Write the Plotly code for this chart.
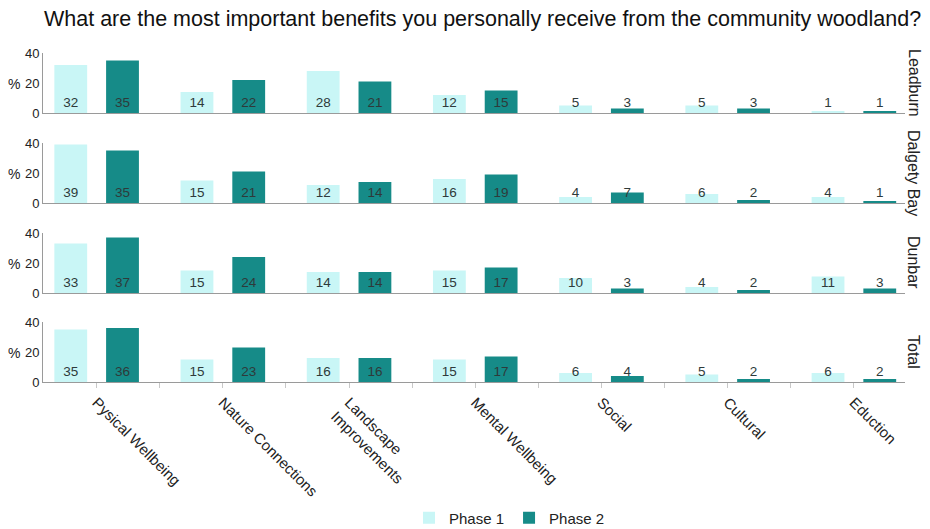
import numpy as np
import plotly.graph_objects as go

categories = ["Pysical Wellbeing", "Nature Connections", "Landscape<br>Improvements",
              "Mental Wellbeing", "Social", "Cultural", "Eduction"]
sites = ["Leadburn", "Dalgety Bay", "Dunbar", "Total"]
phase1 = {
    "Leadburn":    [32, 14, 28, 12, 5, 5, 1],
    "Dalgety Bay": [39, 15, 12, 16, 4, 6, 4],
    "Dunbar":      [33, 15, 14, 15, 10, 4, 11],
    "Total":       [35, 15, 16, 15, 6, 5, 6],
}
phase2 = {
    "Leadburn":    [35, 22, 21, 15, 3, 3, 1],
    "Dalgety Bay": [35, 21, 14, 19, 7, 2, 1],
    "Dunbar":      [37, 24, 14, 17, 3, 2, 3],
    "Total":       [36, 23, 16, 17, 4, 2, 2],
}
yticks = [0, 20, 40]

C1 = "#c9f6f6"
C2 = "#168b88"
FONT = "Arial, Liberation Sans, sans-serif"
OFF = 8  # page body margin
W, H = 930 - OFF, 529 - OFF

# plot area in page pixels
PL, PR, PT, PB = 43, 905, 53, 382
panels_px = [(53, 113), (143, 203), (233, 293), (322, 382)]


def px_x(px):
    return (px - PL) / (PR - PL)


def px_y(py):
    return (PB - py) / (PB - PT)


fig = go.Figure()
idx = np.arange(len(categories))
off = 0.205
bw = 0.26
label_y = 6.5

for r, site in enumerate(sites):
    ax = "" if r == 0 else str(r + 1)
    xa, ya = "x" + ax, "y" + ax
    fig.add_trace(go.Bar(x=idx - off, y=phase1[site], width=bw, marker_color=C1,
                         marker_line_width=0, name="Phase 1", showlegend=(r == 0),
                         xaxis=xa, yaxis=ya, legendgroup="p1"))
    fig.add_trace(go.Bar(x=idx + off, y=phase2[site], width=bw, marker_color=C2,
                         marker_line_width=0, name="Phase 2", showlegend=(r == 0),
                         xaxis=xa, yaxis=ya, legendgroup="p2"))
    xs = np.concatenate([idx - off, idx + off])
    ts = [str(v) for v in phase1[site] + phase2[site]]
    fig.add_trace(go.Scatter(x=xs, y=[label_y] * len(xs), text=ts, mode="text",
                             textfont=dict(size=13.5, color="#2e3a3a", family=FONT),
                             showlegend=False, hoverinfo="skip", xaxis=xa, yaxis=ya))

    top, bot = panels_px[r]
    fig.layout["yaxis" + ax] = dict(
        domain=[px_y(bot), px_y(top)], range=[0, 40], tickvals=yticks,
        showline=True, linecolor="#9a9a9a", linewidth=1, showgrid=False, zeroline=False,
        ticks="", tickfont=dict(size=13, color="#222", family=FONT), anchor=xa,
        fixedrange=True, automargin=False)
    last = (r == len(sites) - 1)
    fig.layout["xaxis" + ax] = dict(
        domain=[0, 1], range=[-0.425, 6.405], anchor=ya,
        showline=True, linecolor="#9a9a9a", linewidth=1, showgrid=False, zeroline=False,
        tickmode="array",
        tickvals=list(np.arange(-0.5, len(categories), 0.5)) if last else [],
        ticktext=([""] + sum([[c, ""] for c in categories], [])) if last else [],
        tickangle=45, ticks="outside" if last else "", ticklen=5, tickcolor="#c8c8c8",
        tickfont=dict(size=15, color="#222", family=FONT), showticklabels=last,
        fixedrange=True, automargin=False)
    fig.add_annotation(text=site, textangle=90, x=px_x(914), y=px_y((top + bot) / 2),
                       xref="paper", yref="paper", showarrow=False,
                       xanchor="center", yanchor="middle",
                       font=dict(size=16, color="#222", family=FONT))
    fig.add_annotation(text="%", x=px_x(14.5), y=px_y(bot - 29), xref="paper", yref="paper",
                       showarrow=False, xanchor="center", yanchor="middle",
                       font=dict(size=14, color="#222", family=FONT))

fig.add_annotation(text="What are the most important benefits you personally receive from the community woodland?",
                   x=px_x(482), y=px_y(19), xref="paper", yref="paper", showarrow=False,
                   xanchor="center", yanchor="middle",
                   font=dict(size=21.5, color="#111", family=FONT))

fig.update_layout(
    width=W, height=H,
    margin=dict(l=PL - OFF, r=W - (PR - OFF), t=PT - OFF, b=H - (PB - OFF), autoexpand=False),
    paper_bgcolor="white", plot_bgcolor="white", barmode="overlay",
    legend=dict(orientation="h", x=px_x(409), xanchor="left", y=px_y(518), yanchor="middle",
                font=dict(size=15, color="#222", family=FONT)),
    font=dict(family=FONT),
)
fig.write_html("out.html")
